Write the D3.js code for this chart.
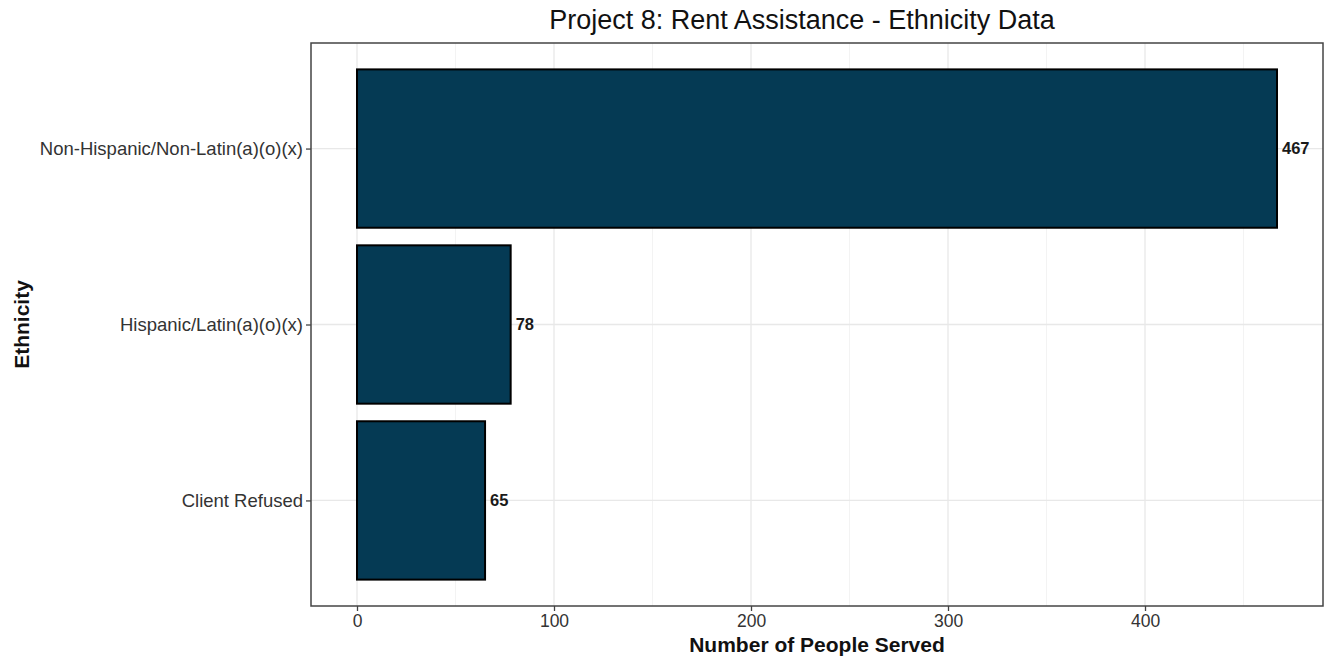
<!DOCTYPE html>
<html><head><meta charset="utf-8">
<script src="https://cdn.jsdelivr.net/npm/d3@7"></script>
<style>body{margin:0;background:#fff}svg text{font-family:"Liberation Sans",Arial,sans-serif}</style>
</head><body>
<svg id="c" width="1330" height="659"></svg>
<script>
const categories = ["Non-Hispanic/Non-Latin(a)(o)(x)", "Hispanic/Latin(a)(o)(x)", "Client Refused"];
const values = [467, 78, 65];
const xTicks = [0, 100, 200, 300, 400];
const xMinor = [50, 150, 250, 350, 450];
const title = "Project 8: Rent Assistance - Ethnicity Data";
const xTitle = "Number of People Served";
const yTitle = "Ethnicity";

const svg = d3.select("#c");
const P = {l: 311, r: 1323, t: 43, b: 606};
const maxV = d3.max(values);
const x = d3.scaleLinear().domain([-maxV*0.05, maxV*1.05]).range([P.l, P.r]);
const n = categories.length;
const yc = d3.scaleLinear().domain([0.4, n + 0.6]).range([P.t, P.b]);
const yPos = c => yc(categories.indexOf(c) + 1);
const barH = yc(1.45) - yc(0.55);

const g = svg.append("g");
g.selectAll(".minor").data(xMinor).join("line")
  .attr("x1", d => x(d)).attr("x2", d => x(d)).attr("y1", P.t).attr("y2", P.b)
  .attr("stroke", "#f3f3f3").attr("stroke-width", 1);
g.selectAll(".major").data(xTicks).join("line")
  .attr("x1", d => x(d)).attr("x2", d => x(d)).attr("y1", P.t).attr("y2", P.b)
  .attr("stroke", "#e8e8e8").attr("stroke-width", 1.3);
g.selectAll(".hmaj").data(categories).join("line")
  .attr("x1", P.l).attr("x2", P.r).attr("y1", d => yPos(d)).attr("y2", d => yPos(d))
  .attr("stroke", "#e8e8e8").attr("stroke-width", 1.3);

svg.selectAll(".bar").data(categories).join("rect")
  .attr("x", x(0)).attr("y", d => yPos(d) - barH/2)
  .attr("width", (d, i) => x(values[i]) - x(0)).attr("height", barH)
  .attr("fill", "#053a54").attr("stroke", "#000").attr("stroke-width", 2);

svg.selectAll(".lab").data(categories).join("text")
  .attr("x", (d, i) => x(values[i]) + 5).attr("y", d => yPos(d))
  .attr("dy", "0.35em").attr("font-size", 16.5).attr("font-weight", "bold").attr("fill", "#1a1a1a")
  .text((d, i) => values[i]);

svg.append("rect").attr("x", P.l).attr("y", P.t).attr("width", P.r - P.l).attr("height", P.b - P.t)
  .attr("fill", "none").attr("stroke", "#444").attr("stroke-width", 1.5);

const xa = svg.append("g").attr("transform", `translate(0,${P.b})`)
  .call(d3.axisBottom(x).tickValues(xTicks).tickSize(5).tickPadding(4));
xa.select(".domain").remove();
xa.selectAll("line").attr("stroke", "#444").attr("stroke-width", 1.3);
xa.selectAll("text").attr("font-size", 17.5).attr("fill", "#333").attr("font-family", "Liberation Sans, Arial, sans-serif");

const yAxisScale = d3.scalePoint().domain(categories).range([yPos(categories[0]), yPos(categories[n-1])]);
const ya = svg.append("g").attr("transform", `translate(${P.l},0)`)
  .call(d3.axisLeft(yAxisScale).tickSize(5).tickPadding(3));
ya.select(".domain").remove();
ya.selectAll("line").attr("stroke", "#444").attr("stroke-width", 1.3);
ya.selectAll("text").attr("font-size", 18.5).attr("fill", "#333").attr("font-family", "Liberation Sans, Arial, sans-serif");

svg.append("text").attr("x", 802).attr("y", 29).attr("text-anchor", "middle")
  .attr("font-size", 27).attr("fill", "#111").text(title);
svg.append("text").attr("x", (P.l + P.r)/2).attr("y", 652).attr("text-anchor", "middle")
  .attr("font-size", 21).attr("font-weight", "bold").attr("fill", "#111").text(xTitle);
svg.append("text").attr("transform", `translate(29,${(P.t + P.b)/2}) rotate(-90)`).attr("text-anchor", "middle")
  .attr("font-size", 21).attr("font-weight", "bold").attr("fill", "#111").text(yTitle);
</script>
</body></html>
